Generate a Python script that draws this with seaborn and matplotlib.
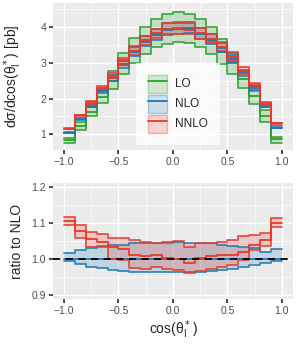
import matplotlib
matplotlib.use("Agg")
import matplotlib.pyplot as plt
import numpy as np
import pandas as pd
import seaborn as sns
from matplotlib.colors import to_rgba
from matplotlib.lines import Line2D
from matplotlib.patches import Patch
from matplotlib.ticker import MultipleLocator

# bins in cos(theta_l*)
edges = [-1.0, -0.9, -0.8, -0.7, -0.6, -0.5, -0.4, -0.3, -0.2, -0.1, 0.0,
         0.1, 0.2, 0.3, 0.4, 0.5, 0.6, 0.7, 0.8, 0.9, 1.0]

# LO cross section [pb]: central, upper, lower scale variation
lo_c = [0.84, 1.24, 1.63, 2.03, 2.50, 2.93, 3.32, 3.60, 3.80, 3.93,
        3.98, 3.93, 3.80, 3.60, 3.30, 3.00, 2.55, 2.06, 1.50, 0.86]
lo_up = [0.91, 1.35, 1.77, 2.20, 2.77, 3.28, 3.70, 3.99, 4.22, 4.35,
         4.42, 4.35, 4.22, 3.99, 3.67, 3.30, 2.78, 2.22, 1.69, 0.92]
lo_dn = [0.75, 1.13, 1.50, 1.88, 2.27, 2.67, 3.00, 3.25, 3.43, 3.53,
         3.58, 3.55, 3.43, 3.25, 2.95, 2.69, 2.30, 1.86, 1.35, 0.76]

# NLO central [pb]
nlo_c = [1.05, 1.42, 1.79, 2.20, 2.56, 2.95, 3.30, 3.59, 3.78, 3.92,
         3.93, 3.96, 3.80, 3.64, 3.41, 3.11, 2.70, 2.29, 1.77, 1.19]

# ratios to NLO central
nlo_r_up = [1.017, 1.025, 1.030, 1.035, 1.038, 1.040, 1.043, 1.045, 1.045, 1.046,
            1.046, 1.045, 1.044, 1.043, 1.040, 1.037, 1.034, 1.030, 1.020, 1.028]
nlo_r_dn = [0.994, 0.985, 0.979, 0.975, 0.970, 0.966, 0.965, 0.964, 0.964, 0.964,
            0.964, 0.964, 0.965, 0.966, 0.968, 0.972, 0.977, 0.982, 0.990, 0.994]
nnlo_r_c = [1.105, 1.078, 1.056, 1.048, 1.032, 1.028, 1.010, 1.008, 1.012, 1.004,
            1.000, 0.990, 1.004, 1.008, 1.010, 1.012, 1.020, 1.040, 1.053, 1.100]
nnlo_r_up = [1.118, 1.094, 1.076, 1.069, 1.057, 1.057, 1.053, 1.046, 1.044, 1.044,
             1.051, 1.034, 1.045, 1.044, 1.048, 1.053, 1.064, 1.067, 1.071, 1.113]
nnlo_r_dn = [1.094, 1.059, 1.034, 1.032, 1.000, 0.998, 0.974, 0.972, 0.978, 0.972,
             0.968, 0.960, 0.966, 0.972, 0.978, 0.983, 0.998, 1.025, 1.035, 1.090]

colors = {"LO": "#2CA02C", "NLO": "#1F77B4", "NNLO": "#E8392A"}

nlo = np.array(nlo_c)
top = {
    "LO": (np.array(lo_c), np.array(lo_dn), np.array(lo_up)),
    "NLO": (nlo, nlo * np.array(nlo_r_dn), nlo * np.array(nlo_r_up)),
    "NNLO": (nlo * np.array(nnlo_r_c), nlo * np.array(nnlo_r_dn), nlo * np.array(nnlo_r_up)),
}
ratio = {
    "NLO": (nlo / nlo, np.array(nlo_r_dn), np.array(nlo_r_up)),
    "NNLO": (np.array(nnlo_r_c), np.array(nnlo_r_dn), np.array(nnlo_r_up)),
}

sns.set_theme(style="darkgrid", rc={
    "axes.facecolor": "#EBEBEB",
    "grid.color": "white",
    "xtick.bottom": True, "ytick.left": True,
    "xtick.major.size": 3, "ytick.major.size": 3,
    "xtick.color": "#333333", "ytick.color": "#333333",
    "xtick.labelcolor": "#4D4D4D", "ytick.labelcolor": "#4D4D4D",
    "xtick.labelsize": 7.5, "ytick.labelsize": 7.5,
    "axes.labelsize": 10,
})
plt.rcParams["font.family"] = ["Liberation Sans", "DejaVu Sans"]
plt.rcParams["axes.unicode_minus"] = True


def ext(v):
    return np.append(v, v[-1])


def draw_band(ax, name, c, dn, up):
    col = colors[name]
    ax.fill_between(edges, ext(dn), ext(up), step="post", color=col, alpha=0.2, lw=0)
    for v, a in ((dn, 0.85), (up, 0.85), (c, 1.0)):
        sns.lineplot(x=edges, y=ext(v), drawstyle="steps-post", color=col, alpha=a,
                     lw=1.3, ax=ax, estimator=None, sort=False)


def style(ax, ymajor, yminor):
    ax.set_xlim(-1.1, 1.1)
    ax.xaxis.set_major_locator(MultipleLocator(0.5))
    ax.xaxis.set_minor_locator(MultipleLocator(0.25))
    ax.yaxis.set_major_locator(MultipleLocator(ymajor))
    ax.yaxis.set_minor_locator(MultipleLocator(yminor))
    ax.grid(which="major", color="white", lw=1.0)
    ax.grid(which="minor", color="white", lw=0.5)
    ax.tick_params(which="minor", length=0)
    ax.tick_params(which="major", pad=2)
    for s in ax.spines.values():
        s.set_visible(False)


fig = plt.figure(figsize=(3.0, 3.5), dpi=100)
ax1 = fig.add_axes([0.177, 0.571, 0.799, 0.42])
ax2 = fig.add_axes([0.177, 0.146, 0.799, 0.331])

for name in ["LO", "NLO", "NNLO"]:
    draw_band(ax1, name, *top[name])
for name in ["NLO", "NNLO"]:
    draw_band(ax2, name, *ratio[name])
ax2.axhline(1.0, color="black", lw=1.3, ls=(0, (4, 3)))

style(ax1, 1, 0.5)
ax1.set_ylim(0.56, 4.66)
style(ax2, 0.1, 0.05)
ax2.set_ylim(0.889, 1.211)
ax2.set_yticks([0.9, 1.0, 1.1, 1.2])

ax1.set_xlabel("")
ax1.set_ylabel(r"dσ/dcos(θ$_\mathrm{l}^*$) [pb]")
ax2.set_ylabel("ratio to NLO")
ax2.set_xlabel(r"cos(θ$_\mathrm{l}^*$)")
ax1.yaxis.set_label_coords(-0.12, 0.5)
ax2.yaxis.set_label_coords(-0.12, 0.5)
ax2.xaxis.labelpad = 2

handles = []
for name in ["LO", "NLO", "NNLO"]:
    col = colors[name]
    p = Patch(facecolor=to_rgba(col, 0.2), edgecolor=to_rgba(col, 0.35), lw=1.0)
    l = Line2D([], [], color=col, lw=1.3)
    handles.append((p, l))
leg = ax1.legend(handles, ["LO", "NLO", "NNLO"], loc="center", bbox_to_anchor=(0.52, 0.316),
                 frameon=True, fancybox=False, fontsize=8.5, handlelength=1.6, handleheight=2.0,
                 labelspacing=0.15, handletextpad=0.7, borderpad=1.0)
leg.get_frame().set_facecolor("white")
leg.get_frame().set_edgecolor("none")

fig.savefig("out.png", dpi=100)
